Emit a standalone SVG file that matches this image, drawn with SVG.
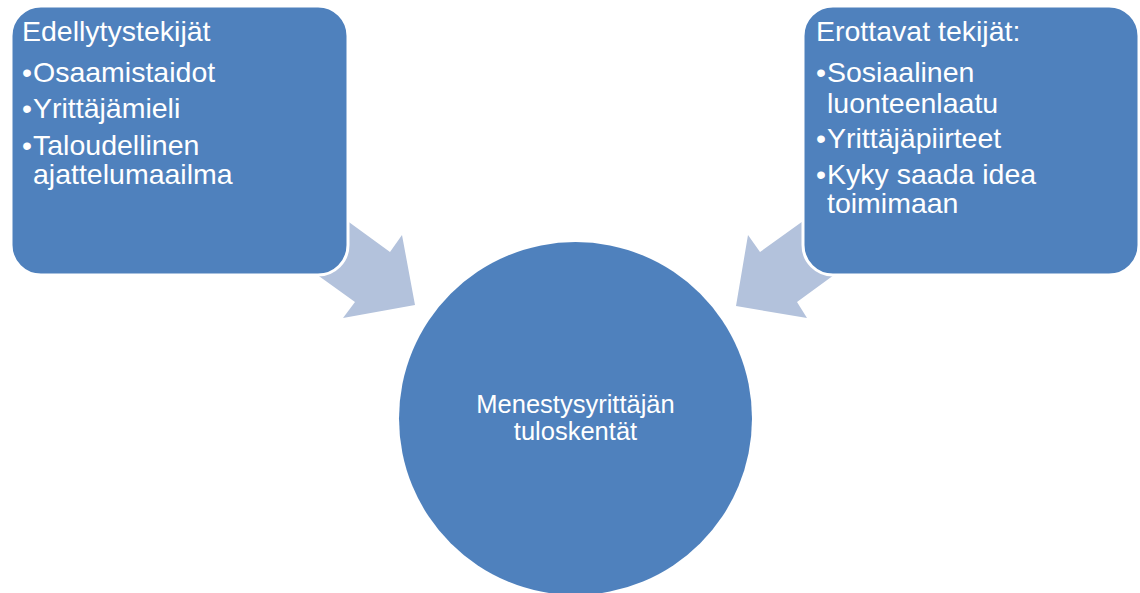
<svg xmlns="http://www.w3.org/2000/svg" width="1140" height="593" viewBox="0 0 1140 593">
  <style>
    .box { fill: #4F81BD; stroke: #FFFFFF; stroke-width: 3; }
    .arrow { fill: #B3C2DC; }
    .t { font-family: "Liberation Sans", Arial, sans-serif; fill: #FFFFFF; font-size: 28.5px; }
    .c { font-family: "Liberation Sans", Arial, sans-serif; fill: #FFFFFF; font-size: 25.5px; text-anchor: middle; }
  </style>
  <rect width="1140" height="593" fill="#FFFFFF"/>
  <g id="connectors">
    <polygon class="arrow" points="291,256 320,201 390,252 402,235 415,305 343,318 355,302"/>
    <polygon class="arrow" points="860,256 831,201 760,252 748,235 736,306 807,318 797,302"/>
  </g>
  <g id="node-edellytystekijat">
    <rect class="box" x="11" y="6" width="337" height="269" rx="30" ry="30"/>
    <text class="t" x="22" y="41">Edellytystekijät</text>
    <text class="t" x="22" y="82">•<tspan x="33">Osaamistaidot</tspan></text>
    <text class="t" x="22" y="118">•<tspan x="33">Yrittäjämieli</tspan></text>
    <text class="t" x="22" y="155">•<tspan x="33">Taloudellinen</tspan></text>
    <text class="t" x="33" y="184">ajattelumaailma</text>
  </g>
  <g id="node-erottavat">
    <rect class="box" x="803" y="6" width="336" height="269" rx="30" ry="30"/>
    <text class="t" x="816" y="41">Erottavat tekijät:</text>
    <text class="t" x="816" y="82">•<tspan x="827">Sosiaalinen</tspan></text>
    <text class="t" x="827" y="113">luonteenlaatu</text>
    <text class="t" x="816" y="148">•<tspan x="827">Yrittäjäpiirteet</tspan></text>
    <text class="t" x="816" y="184">•<tspan x="827">Kyky saada idea</tspan></text>
    <text class="t" x="827" y="213">toimimaan</text>
  </g>
  <g id="node-menestys">
    <circle cx="575.5" cy="418.5" r="176.5" fill="#4F81BD"/>
    <text class="c" x="575.5" y="413">Menestysyrittäjän</text>
    <text class="c" x="575.5" y="440">tuloskentät</text>
  </g>
</svg>
